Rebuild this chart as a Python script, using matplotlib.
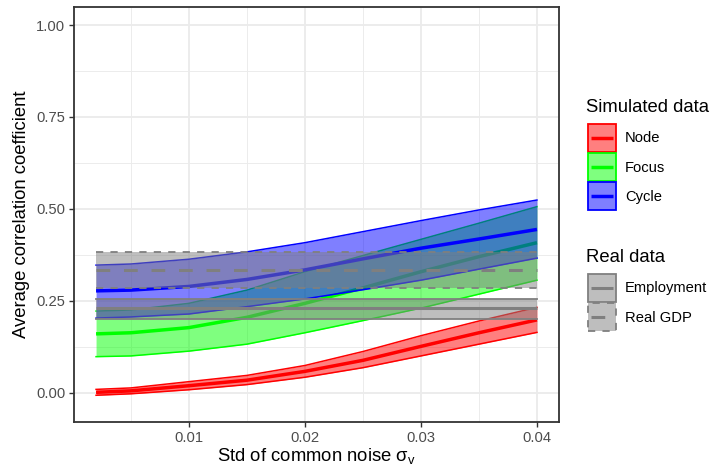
import matplotlib
matplotlib.use('Agg')
import matplotlib.pyplot as plt
from matplotlib.patches import Rectangle
from matplotlib.lines import Line2D
from matplotlib.legend_handler import HandlerBase
import numpy as np

plt.rcParams['font.family'] = ['Liberation Sans', 'DejaVu Sans']
plt.rcParams['mathtext.fontset'] = 'custom'
plt.rcParams['mathtext.rm'] = 'Liberation Sans'

# noise levels where the simulations were run
sigma = [0.002, 0.005, 0.01, 0.015, 0.02, 0.025, 0.03, 0.035, 0.04]

# simulated data: mean and band
nodeMid = [0.001, 0.005, 0.019, 0.034, 0.058, 0.088, 0.126, 0.163, 0.198]
nodeLow = [-0.007, -0.003, 0.008, 0.022, 0.042, 0.068, 0.100, 0.132, 0.164]
nodeHigh = [0.009, 0.013, 0.030, 0.047, 0.074, 0.112, 0.155, 0.195, 0.232]

focusMid = [0.160, 0.163, 0.177, 0.205, 0.243, 0.285, 0.329, 0.370, 0.408]
focusLow = [0.098, 0.100, 0.113, 0.132, 0.163, 0.196, 0.230, 0.268, 0.306]
focusHigh = [0.222, 0.225, 0.243, 0.279, 0.329, 0.373, 0.417, 0.461, 0.506]

cycleMid = [0.277, 0.279, 0.289, 0.308, 0.334, 0.364, 0.393, 0.418, 0.444]
cycleLow = [0.203, 0.206, 0.214, 0.234, 0.255, 0.280, 0.306, 0.336, 0.366]
cycleHigh = [0.347, 0.350, 0.363, 0.383, 0.408, 0.438, 0.468, 0.497, 0.524]

# real data: constant over sigma
employment = [0.200, 0.229, 0.256]   # low, mid, high
realGDP = [0.285, 0.334, 0.383]

simNames = ['Node', 'Focus', 'Cycle']
simColors = ['#FF0000', '#00FF00', '#0000FF']
realNames = ['Employment', 'Real GDP']
realStyles = ['solid', 'dashed']
GREY = '#7F7F7F'


class KeyHandler(HandlerBase):
    """ggplot-like key: half transparent box, coloured border, line through the middle"""
    def create_artists(self, legend, orig_handle, xdescent, ydescent, width, height, fontsize, trans):
        col, ls, lw = orig_handle
        x0, y0 = -xdescent, -ydescent
        fill = Rectangle((x0, y0), width, height, facecolor=col, alpha=0.5, edgecolor='none', transform=trans)
        edge = Rectangle((x0, y0), width, height, facecolor='none', edgecolor=col, lw=1.3,
                         ls=(0, (4, 4)) if ls == 'dashed' else '-', transform=trans)
        cy = y0 + height / 2
        line = Line2D([x0 + 2, x0 + width - 2], [cy, cy], color=col, lw=lw,
                      ls=(0, (4.5, 4.5)) if ls == 'dashed' else '-', solid_capstyle='butt', transform=trans)
        return [fill, edge, line]


fig = plt.figure(figsize=(7.12, 4.70), dpi=100)
ax = fig.add_axes([74/712, 48/470, 485/712, 415/470])

sim = [(nodeLow, nodeMid, nodeHigh), (focusLow, focusMid, focusHigh), (cycleLow, cycleMid, cycleHigh)]
z = 1
for (low, mid, high), col in zip(sim, simColors):
    ax.fill_between(sigma, low, high, color=col, alpha=0.5, lw=0, zorder=z)
    ax.plot(sigma, low, color=col, lw=1.1, zorder=z+1)
    ax.plot(sigma, high, color=col, lw=1.1, zorder=z+1)
    ax.plot(sigma, mid, color=col, lw=2.5, solid_capstyle='butt', zorder=z+2)
    z += 3

xs = [sigma[0], sigma[-1]]
for vals, ls in zip([employment, realGDP], realStyles):
    low, mid, high = vals
    edgeDash = (0, (4, 4)) if ls == 'dashed' else '-'
    midDash = (0, (4.5, 4.5)) if ls == 'dashed' else '-'
    ax.fill_between(xs, [low]*2, [high]*2, color=GREY, alpha=0.5, lw=0, zorder=z)
    ax.plot(xs, [low]*2, color=GREY, lw=1.3, ls=edgeDash, zorder=z+1)
    ax.plot(xs, [high]*2, color=GREY, lw=1.3, ls=edgeDash, zorder=z+1)
    ax.plot(xs, [mid]*2, color=GREY, lw=2.2, ls=midDash, solid_capstyle='butt', zorder=z+2)
    z += 3

ax.set_xlim(0.0001, 0.0419)
ax.set_ylim(-0.0797, 1.049)
ax.set_xticks([0.01, 0.02, 0.03, 0.04])
ax.set_xticklabels(['0.01', '0.02', '0.03', '0.04'])
ax.set_xticks([0.005, 0.015, 0.025, 0.035], minor=True)
ax.set_yticks([0, 0.25, 0.5, 0.75, 1.0])
ax.set_yticklabels(['0.00', '0.25', '0.50', '0.75', '1.00'])
ax.set_yticks([0.125, 0.375, 0.625, 0.875], minor=True)
ax.grid(which='major', color='#EBEBEB', lw=1.3)
ax.grid(which='minor', color='#EBEBEB', lw=0.65)
ax.set_axisbelow(True)
ax.tick_params(which='major', length=3.3, width=1.0, color='#333333', labelcolor='#4D4D4D', labelsize=10.6, pad=3)
ax.tick_params(which='minor', length=0)
for s in ax.spines.values():
    s.set_color('#333333')
    s.set_linewidth(1.3)

ax.set_xlabel('Std of common noise σ$_\\mathregular{v}$', fontsize=13.3)
ax.set_ylabel('Average correlation coefficient', fontsize=13.3)
ax.xaxis.set_label_coords(0.5, -0.058)
ax.yaxis.set_label_coords(-0.09, 0.5)

# legends
simHandles = [(c, 'solid', 2.5) for c in simColors]
realHandles = [(GREY, ls, 2.2) for ls in realStyles]
legOpts = dict(loc='upper left', frameon=False, borderpad=0, borderaxespad=0,
               fontsize=10.6, handlelength=1.9, handleheight=2.55,
               labelspacing=0.07, handletextpad=0.63,
               handler_map={tuple: KeyHandler()})
leg1 = fig.legend(simHandles, simNames, bbox_to_anchor=(588/712, 1-124/470), **legOpts)
leg2 = fig.legend(realHandles, realNames, bbox_to_anchor=(588/712, 1-274/470), **legOpts)
fig.text(586/712, 1-108/470, 'Simulated data', fontsize=13.3, va='center', ha='left')
fig.text(586/712, 1-257/470, 'Real data', fontsize=13.3, va='center', ha='left')

fig.savefig('out.png', dpi=100)
